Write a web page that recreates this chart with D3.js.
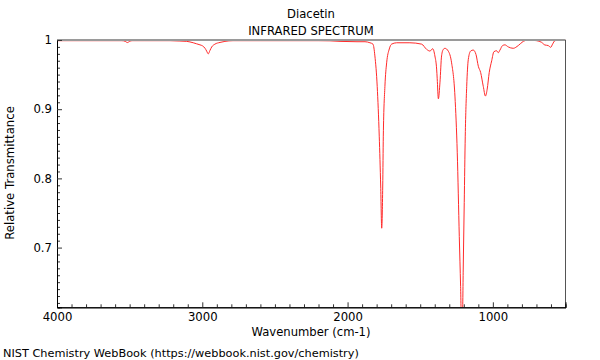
<!DOCTYPE html>
<html><head><meta charset="utf-8">
<script src="https://cdn.jsdelivr.net/npm/d3@7"></script>
<style>html,body{margin:0;padding:0;background:#fff;}svg{display:block;font-family:"DejaVu Sans",sans-serif;}</style>
</head><body><svg id="c" width="600" height="360"></svg>
<script>
const title = "Diacetin";
const subtitle = "INFRARED SPECTRUM";
const xLabel = "Wavenumber (cm-1)";
const yLabel = "Relative Transmittance";
const footer = "NIST Chemistry WebBook (https://webbook.nist.gov/chemistry)";
const xTicks = [4000, 3000, 2000, 1000];
const yTicks = [0.7, 0.8, 0.9, 1];
const wavenumber = [4000,3800,3600,3553,3530,3516,3500,3484,3400,3300,3222,3154,3107,3062,3039,3016,2998,2981,2970,2959,2947,2935,2913,2878,2844,2789,2600,2400,2200,2121,2052,1935,1880,1846,1825,1812,1796,1782,1772,1765,1758,1754,1743,1731,1713,1697,1662,1571,1490,1456,1433,1414,1399,1387,1383,1375,1364,1353,1341,1330,1307,1284,1261,1245,1231,1222,1216,1209,1204,1197,1190,1180,1169,1153,1135,1116,1100,1084,1066,1051,1039,1025,1008,993,974,963,951,933,917,894,860,825,791,757,699,665,642,619,602,589,573,538,500];
const transmittance = [0.999,0.999,0.999,0.999,0.998,0.9963,0.998,0.999,0.999,0.999,0.999,0.9985,0.998,0.996,0.9945,0.993,0.9915,0.988,0.984,0.980,0.985,0.990,0.994,0.9965,0.998,0.999,0.999,0.999,0.999,0.9988,0.998,0.9975,0.9975,0.996,0.994,0.977,0.933,0.861,0.789,0.728,0.789,0.861,0.933,0.967,0.987,0.994,0.996,0.996,0.994,0.9865,0.984,0.9874,0.977,0.958,0.944,0.915,0.939,0.977,0.9865,0.988,0.984,0.967,0.919,0.837,0.716,0.644,0.59,0.60,0.669,0.765,0.861,0.933,0.972,0.984,0.9855,0.979,0.962,0.953,0.933,0.919,0.929,0.953,0.970,0.983,0.9845,0.9816,0.9855,0.992,0.993,0.990,0.988,0.992,0.998,1.0,0.999,0.9967,0.9928,0.992,0.9894,0.994,0.999,1.0,1.0];

const svg = d3.select("#c");
const L = 57, R = 565.5, T = 40, B = 307.3;
const x = d3.scaleLinear().domain([4000, 500]).range([L, R]);
const y = d3.scaleLinear().domain([0.6137, 1]).range([B, T]);

svg.append("defs").append("clipPath").attr("id","clip")
  .append("rect").attr("x",L).attr("y",T-1).attr("width",R-L).attr("height",B-T+1);

const data = wavenumber.map((w,i)=>[w, transmittance[i]]);
svg.append("path").datum(data)
  .attr("clip-path","url(#clip)")
  .attr("fill","none").attr("stroke","#ff2a2a").attr("stroke-width",1)
  .attr("d", d3.line().x(d=>x(d[0])).y(d=>y(d[1])).curve(d3.curveMonotoneX));

svg.append("line").attr("x1",L).attr("x2",R).attr("y1",T).attr("y2",T).attr("stroke","#9a9a9a").attr("stroke-width",2);
svg.append("line").attr("x1",R).attr("x2",R).attr("y1",T).attr("y2",B).attr("stroke","#555").attr("stroke-width",1);

const xMinor = d3.range(600, 4000, 100).filter(v=>!xTicks.includes(v));
const gxm = svg.append("g").attr("transform",`translate(0,${B})`)
  .call(d3.axisBottom(x).tickValues(xMinor).tickSize(-3).tickFormat(""));
const gx = svg.append("g").attr("transform",`translate(0,${B})`)
  .call(d3.axisBottom(x).tickValues(xTicks).tickSize(-5).tickPadding(5).tickFormat(d3.format("d")));
const yMinor = d3.range(62, 100).map(v=>v/100).filter(v=>!yTicks.some(t=>Math.abs(t-v)<1e-6));
const gym = svg.append("g").attr("transform",`translate(${L},0)`)
  .call(d3.axisLeft(y).tickValues(yMinor).tickSize(-3).tickFormat(""));
const gy = svg.append("g").attr("transform",`translate(${L},0)`)
  .call(d3.axisLeft(y).tickValues(yTicks).tickSize(-5).tickPadding(5).tickFormat(d=>String(d)));
[gx,gxm,gy,gym].forEach(g=>{
  g.selectAll("text").attr("font-size",11.7).attr("font-family","DejaVu Sans").attr("fill","#000");
  g.selectAll("line").attr("stroke","#333");
  g.select(".domain").attr("stroke","#000");
});
gx.selectAll("text").attr("dy","0.71em");

svg.append("text").attr("x",311).attr("y",18).attr("text-anchor","middle").attr("font-size",11.6).text(title);
svg.append("text").attr("x",311).attr("y",35).attr("text-anchor","middle").attr("font-size",11.6).text(subtitle);
svg.append("text").attr("x",311).attr("y",336).attr("text-anchor","middle").attr("font-size",11.6).text(xLabel);
svg.append("text").attr("transform","translate(14,173) rotate(-90)").attr("text-anchor","middle").attr("font-size",11.7).text(yLabel);
svg.append("text").attr("x",3).attr("y",357).attr("font-size",11.3).text(footer);
</script></body></html>
